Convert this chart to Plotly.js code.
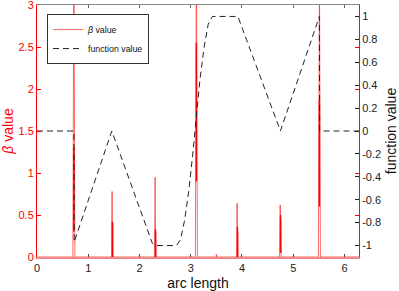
<!DOCTYPE html>
<html>
<head>
<meta charset="utf-8">
<script src="https://cdn.plot.ly/plotly-3.0.1.min.js"></script>
<style>html,body{margin:0;padding:0;background:#fff;}#chart{width:399px;height:291px;}</style>
</head>
<body>
<div id="chart"></div>
<script>
// beta (left axis) envelope
var betaX = [0, 0.70, 0.718, 0.722, 0.74,
  1.455, 1.465, 1.468, 1.471, 1.474, 1.477, 1.485,
  2.295, 2.305, 2.308, 2.311, 2.314, 2.317, 2.325,
  3.09, 3.108, 3.112, 3.13,
  3.495, 3.5, 3.505,
  3.895, 3.905, 3.908, 3.911, 3.914, 3.917, 3.925,
  4.735, 4.745, 4.748, 4.751, 4.754, 4.757, 4.765,
  5.49, 5.508, 5.512, 5.53,
  6.2832];
var betaY = [0, 0, 3.4, 3.4, 0,
  0, 0.78, 0.1, 0.42, 0.05, 0.4, 0,
  0, 0.95, 0.05, 0.33, 0.05, 0.3, 0,
  0, 3.4, 3.4, 0,
  0, 0.03, 0,
  0, 0.64, 0.05, 0.36, 0.05, 0.3, 0,
  0, 0.62, 0.05, 0.5, 0.05, 0.45, 0,
  0, 3.4, 3.4, 0,
  0];
// dense cores of the spikes
var coreX = [0.72, 0.72, null, 1.471, 1.471, null, 2.311, 2.311, null, 3.11, 3.11, null,
  3.911, 3.911, null, 4.751, 4.751, null, 5.51, 5.51];
var coreY = [0.3, 1.3, null, 0, 0.42, null, 0, 0.33, null, 0.9, 2.55, null,
  0, 0.36, null, 0.05, 0.5, null, 0.6, 1.86];
// function value (right axis)
var funcX = [0, 0.72, 0.725, 1.46, 2.25, 2.32, 2.72, 2.80, 2.88, 2.96, 3.04, 3.10, 3.18, 3.26, 3.34, 3.42, 3.92, 4.75, 5.51, 5.515, 6.2832];
var funcY = [0, 0, -0.97, 0, -0.98, -1, -1, -0.95, -0.78, -0.53, -0.2, 0.1, 0.45, 0.73, 0.93, 1, 1, 0, 1, 0, 0];

var xTicks = [0, 1, 2, 3, 4, 5, 6];
var leftTicks = [0, 0.5, 1, 1.5, 2, 2.5, 3];
var rightTicks = [-1, -0.8, -0.6, -0.4, -0.2, 0, 0.2, 0.4, 0.6, 0.8, 1];

var F = 'Liberation Sans, Arial, sans-serif';
var RED = '#ff0000';

var traces = [
  {x: betaX, y: betaY, type: 'scatter', mode: 'lines', name: '<i>β</i> value',
   line: {color: 'rgba(255,40,40,0.7)', width: 1}, xaxis: 'x', yaxis: 'y'},
  {x: coreX, y: coreY, type: 'scatter', mode: 'lines', showlegend: false, connectgaps: false,
   line: {color: RED, width: 1.5}, xaxis: 'x', yaxis: 'y', hoverinfo: 'skip'},
  {x: funcX, y: funcY, type: 'scatter', mode: 'lines', name: 'function value',
   line: {color: '#222', width: 1, dash: '6px,4px'}, xaxis: 'x', yaxis: 'y2'}
];

var layout = {
  width: 399, height: 291,
  margin: {l: 37, r: 40, t: 5, b: 34, pad: 0},
  paper_bgcolor: '#fff', plot_bgcolor: '#fff',
  font: {family: F, size: 11, color: '#222'},
  showlegend: true,
  legend: {x: 0.031, y: 0.964, xanchor: 'left', yanchor: 'top', bgcolor: '#fff',
    bordercolor: '#333', borderwidth: 1, font: {family: F, size: 8.8, color: '#111'},
    itemwidth: 30, tracegroupgap: 0},
  xaxis: {range: [0, 6.2832], tickvals: xTicks, ticktext: xTicks.map(String),
    ticks: 'inside', ticklen: 3, tickcolor: '#444', showline: true, linecolor: '#e88',
    linewidth: 1.5, showgrid: false, zeroline: false, layer: 'below traces',
    ticklabeloverflow: 'allow',
    tickfont: {family: F, size: 11, color: '#222'},
    title: {text: 'arc length', font: {family: F, size: 14, color: '#111'}, standoff: 12}},
  xaxis2: {range: [0, 6.2832], overlaying: 'x', side: 'top', tickvals: xTicks,
    showticklabels: false, ticks: 'inside', ticklen: 3, tickcolor: '#666', showline: true,
    linecolor: '#888', showgrid: false, zeroline: false},
  yaxis: {range: [0, 3], tickvals: leftTicks, ticktext: leftTicks.map(String),
    ticks: 'inside', ticklen: 4, tickcolor: RED, showline: true, linecolor: RED,
    mirror: 'ticks', showgrid: false, zeroline: false, ticklabeloverflow: 'allow',
    tickfont: {family: F, size: 11, color: RED},
    title: {text: '<i>β</i> value', font: {family: F, size: 14, color: RED}, standoff: 6}},
  yaxis2: {range: [-1.1, 1.1], overlaying: 'y', side: 'right', tickvals: rightTicks,
    ticktext: rightTicks.map(function(v){return String(v);}),
    ticks: 'inside', ticklen: 4, tickcolor: '#222', showline: true, linecolor: '#7a4040',
    showgrid: false, zeroline: false, ticklabeloverflow: 'allow',
    tickfont: {family: F, size: 11, color: '#222'},
    title: {text: 'function value', font: {family: F, size: 14, color: '#111'}, standoff: 6}}
};

// xaxis2 needs a trace to appear
traces.push({x: [0], y: [0], xaxis: 'x2', yaxis: 'y', mode: 'markers', showlegend: false,
  marker: {opacity: 0}, hoverinfo: 'skip'});

Plotly.newPlot('chart', traces, layout, {staticPlot: true, displayModeBar: false});
</script>
</body>
</html>
